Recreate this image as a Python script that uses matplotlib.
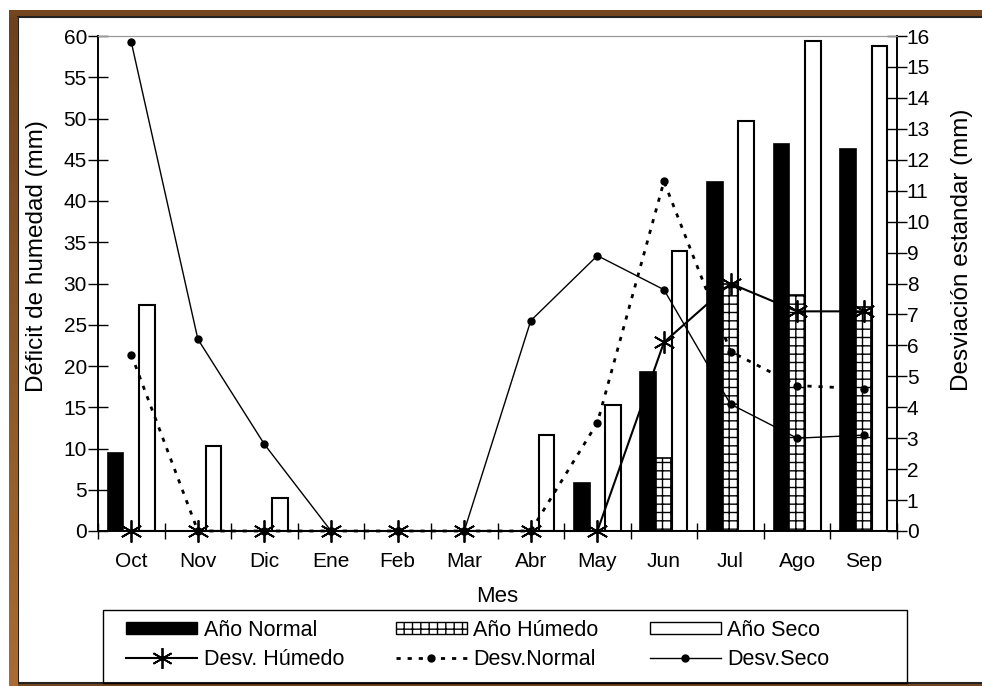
"""Déficit de humedad y desviación estándar por mes."""
import matplotlib
matplotlib.use('Agg')
import matplotlib.pyplot as plt
import numpy as np
from matplotlib.patches import Rectangle, Patch
from matplotlib.lines import Line2D
from matplotlib.colors import LinearSegmentedColormap

plt.rcParams['font.family'] = ['Liberation Sans', 'DejaVu Sans']
plt.rcParams['font.size'] = 15
plt.rcParams['hatch.linewidth'] = 1.0

meses = ['Oct', 'Nov', 'Dic', 'Ene', 'Feb', 'Mar', 'Abr', 'May', 'Jun', 'Jul', 'Ago', 'Sep']

# deficit (mm), left axis
ano_normal = [9.4, 0, 0, 0, 0, 0, 0, 5.8, 19.3, 42.3, 46.9, 46.3]
ano_humedo = [0, 0, 0, 0, 0, 0, 0, 0, 8.8, 30.0, 28.6, 27.2]
ano_seco = [27.4, 10.3, 4.0, 0, 0, 0, 11.6, 15.3, 33.9, 49.7, 59.4, 58.8]

# desviacion estandar (mm), right axis
desv_humedo = [0, 0, 0, 0, 0, 0, 0, 0, 6.1, 8.0, 7.1, 7.1]
desv_normal = [5.7, 0, 0, 0, 0, 0, 0, 3.5, 11.3, 5.8, 4.7, 4.6]
desv_seco = [15.8, 6.2, 2.8, 0, 0, 0, 6.8, 8.9, 7.8, 4.1, 3.0, 3.1]

W, H = 982, 686


def fx(x):
    return x / W


def fy(y):
    return 1 - y / H


fig = plt.figure(figsize=(W / 100, H / 100), dpi=100)

# brown picture frame, left strip gets lighter towards the bottom
brown = '#74461F'
fig.add_artist(Rectangle((fx(9), -0.02), 1.1, fy(10) + 0.02, transform=fig.transFigure,
                         facecolor=brown, edgecolor='none', zorder=-20))
strip = fig.add_axes([fx(9), 0, (18 - 9) / W, fy(17)], zorder=-18)
cmap = LinearSegmentedColormap.from_list('wood', ['#6E421E', '#8A5728', '#A96B31'])
strip.imshow(np.linspace(0, 1, 100).reshape(-1, 1), aspect='auto', cmap=cmap)
strip.axis('off')
fig.add_artist(Rectangle((fx(18), fy(683)), 1.1, (683 - 17) / H, transform=fig.transFigure,
                         facecolor='white', edgecolor='#222222', lw=1.5, zorder=-19))

ax = fig.add_axes([fx(98), fy(531), (897 - 98) / W, (531 - 36) / H])
ax.set_facecolor('none')
ax2 = ax.twinx()

x = np.arange(len(meses))
w = 0.235

ax.bar(x - w, ano_normal, w, color='black', edgecolor='black', lw=1.2)
ax.bar(x, ano_humedo, w, color='white', edgecolor='black', lw=1.2, hatch='++')
ax.bar(x + w, ano_seco, w, color='white', edgecolor='black', lw=1.5)

ax2.plot(x, desv_seco, color='black', lw=1, marker='o', ms=5, clip_on=False)
ax2.plot(x, desv_normal, color='black', lw=2, ls=(0, (1.5, 2.5)), marker='o', ms=5, clip_on=False)
ax2.plot(x, desv_humedo, color='black', lw=1.5, marker=(6, 2, 0), ms=16, mew=1.3, clip_on=False)

ax.set_xlim(-0.5, 11.5)
ax.set_ylim(0, 60)
ax2.set_ylim(0, 16)

ax.set_xticks(x)
ax.set_xticklabels(meses)
ax.set_xticks(np.arange(-0.5, 12, 1), minor=True)
ax.tick_params(axis='x', which='major', length=0, pad=15)
ax.tick_params(axis='x', which='minor', direction='inout', length=12, width=1)
ax.set_yticks(np.arange(0, 61, 5))
ax.tick_params(axis='y', direction='inout', length=14, width=1, pad=1)
ax2.set_yticks(np.arange(0, 17, 1))
ax2.tick_params(axis='y', direction='inout', length=14, width=1, pad=0)

for a in (ax, ax2):
    a.spines['top'].set_color('#999999')
    a.spines['left'].set_linewidth(1.2)
    a.spines['right'].set_linewidth(1.2)
    a.spines['bottom'].set_linewidth(1.2)

fig.text(fx(37), fy(256), 'Déficit de humedad (mm)', rotation=90, ha='center', va='center', fontsize=17.5)
fig.text(fx(962), fy(250), 'Desviación estandar (mm)', rotation=90, ha='center', va='center', fontsize=17.5)
fig.text(fx(497), fy(597), 'Mes', ha='center', va='center', fontsize=16)

# legend (filled column by column)
h_normal = Patch(facecolor='black', edgecolor='black')
h_humedo = Patch(facecolor='white', edgecolor='black', hatch='++')
h_seco = Patch(facecolor='white', edgecolor='black')
l_humedo = Line2D([], [], color='black', lw=1.5, marker=(6, 2, 0), ms=15, mew=1.3)
l_normal = Line2D([], [], color='black', lw=2, ls=(0, (1.5, 2.5)), marker='o', ms=5)
l_seco = Line2D([], [], color='black', lw=1, marker='o', ms=5)

handles = [h_normal, l_humedo, h_humedo, l_normal, h_seco, l_seco]
labels = ['Año Normal', 'Desv. Húmedo', 'Año Húmedo', 'Desv.Normal', 'Año Seco', 'Desv.Seco']
fig.legend(handles, labels, ncol=3, loc='upper left', bbox_to_anchor=(fx(126), fy(620)),
           frameon=False, fontsize=15.5, handlelength=3.3, handleheight=0.5, handletextpad=0.3,
           columnspacing=2.4, borderaxespad=0, borderpad=0, labelspacing=0.35)
fig.add_artist(Rectangle((fx(103), fy(683)), (907 - 103) / W, (683 - 610) / H,
                         transform=fig.transFigure, fill=False, edgecolor='black', lw=1))

plt.savefig('out.png', dpi=100)
plt.close()
